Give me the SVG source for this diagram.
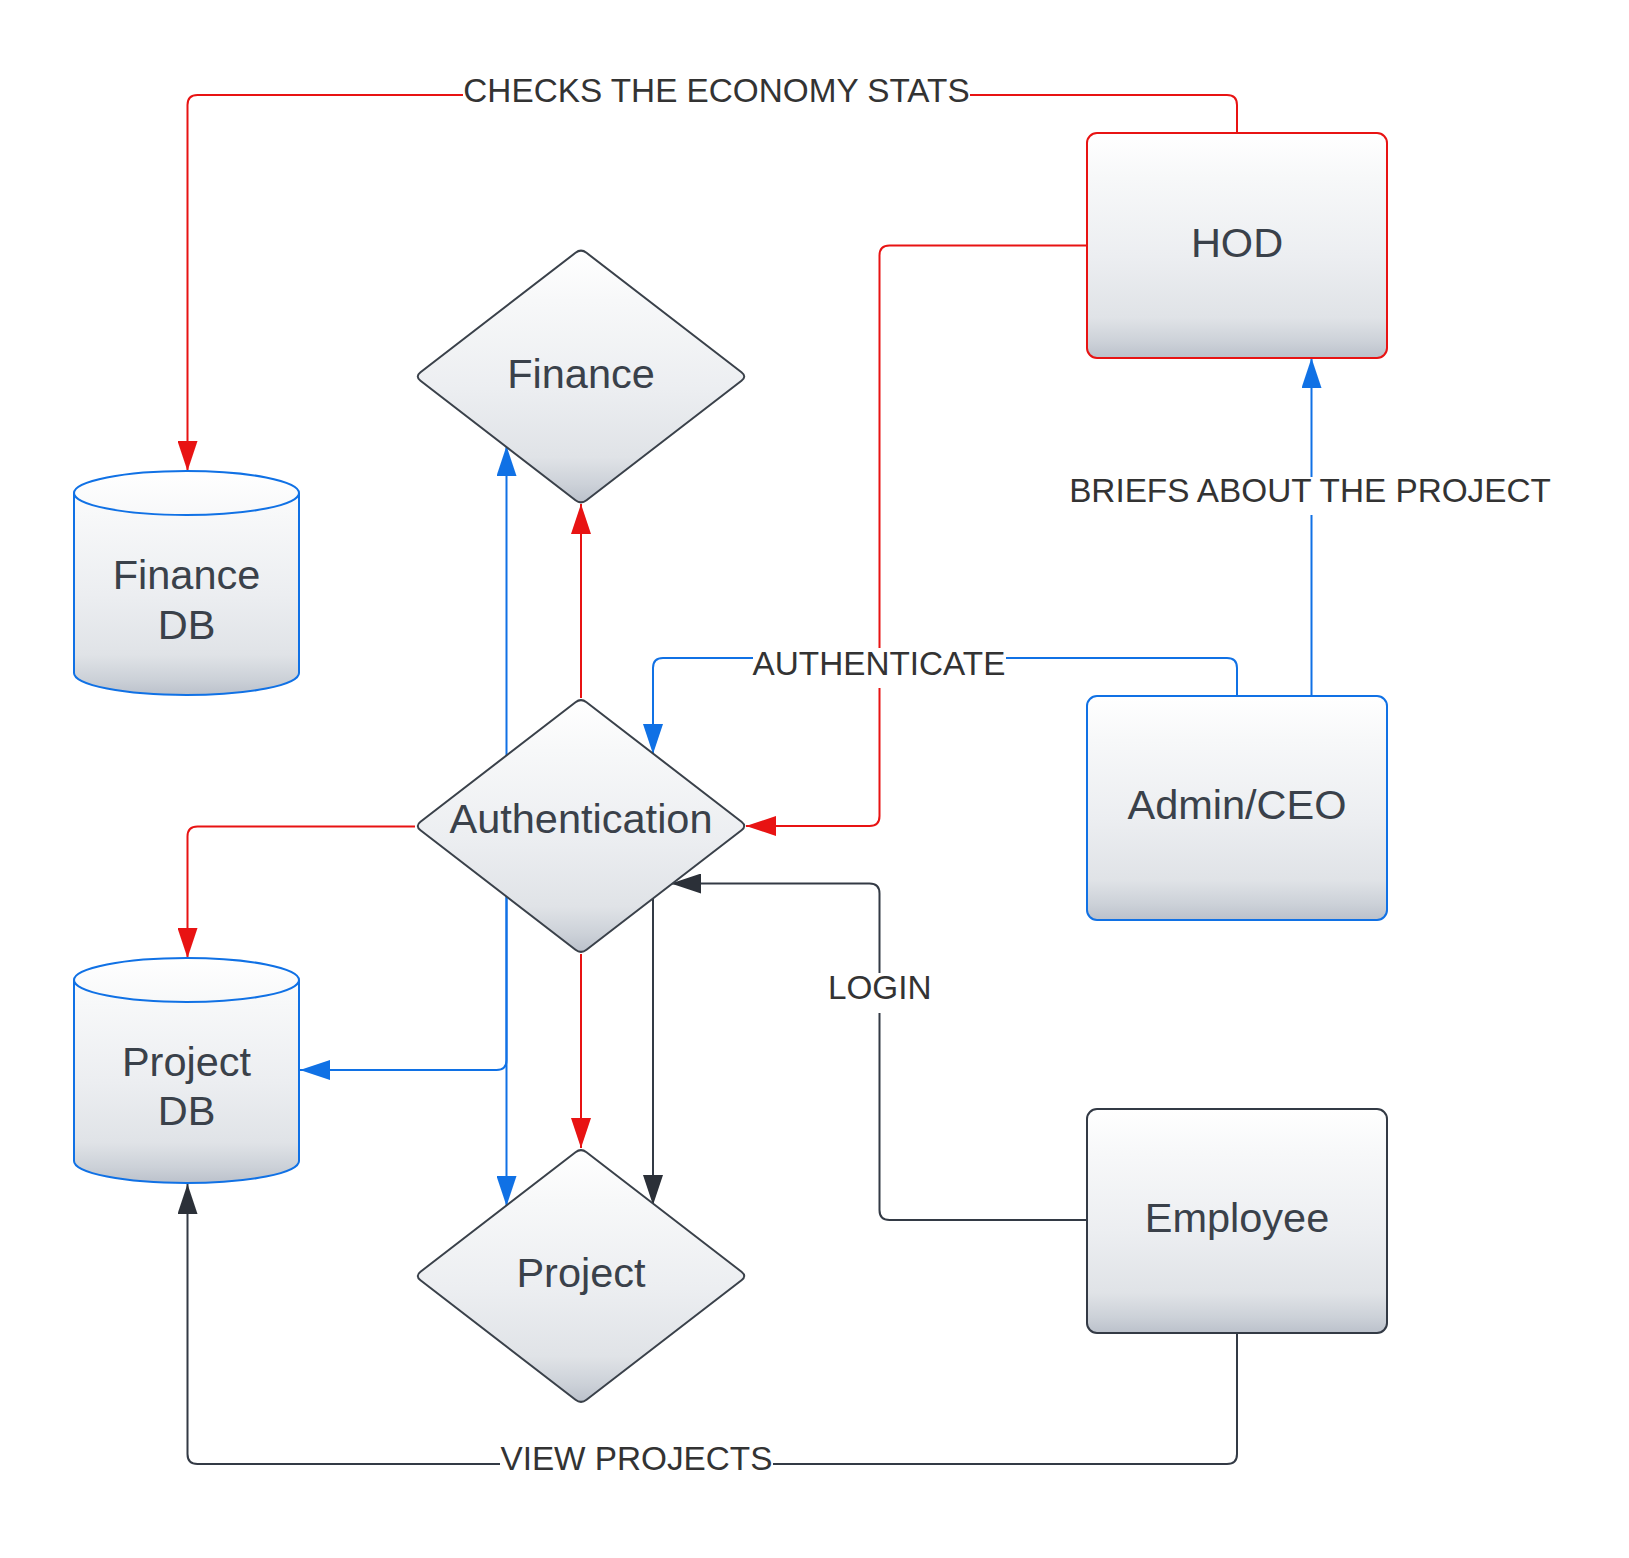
<svg xmlns="http://www.w3.org/2000/svg" xmlns:xlink="http://www.w3.org/1999/xlink" width="1629" height="1558" viewBox="0 0 1629 1558">
<style>
.node{fill:url(#g);stroke-width:2}
.nt{font-family:"Liberation Sans",Arial,sans-serif;font-size:41.5px;fill:#3a414a;text-anchor:middle}
.lt{font-family:"Liberation Sans",Arial,sans-serif;font-size:33.3px;fill:#333333;text-anchor:middle}
.c{fill:none;stroke-width:2}
.red{stroke:#e81313}
.blue{stroke:#1071e5}
.dark{stroke:#333a45}
.lbg{fill:#ffffff}
</style>
<defs>
<linearGradient id="g" x1="0" y1="0" x2="0" y2="1">
<stop offset="0" stop-color="#ffffff"/>
<stop offset="0.2" stop-color="#f7f8f9"/>
<stop offset="0.55" stop-color="#eceef1"/>
<stop offset="0.82" stop-color="#e0e3e7"/>
<stop offset="0.93" stop-color="#ccd1d8"/>
<stop offset="1" stop-color="#bbc1cb"/>
</linearGradient>
<path id="dia" d="M-5.5,-123.7 Q0,-128 5.5,-123.7 L160.5,-4.3 Q166,0 160.5,4.3 L5.5,123.7 Q0,128 -5.5,123.7 L-160.5,4.3 Q-166,0 -160.5,-4.3 Z"/>
<marker id="ar" markerUnits="userSpaceOnUse" markerWidth="30" markerHeight="20" refX="30" refY="10" orient="auto"><path d="M0,0 L30,10 L0,20 Z" fill="#e81313"/></marker>
<marker id="ab" markerUnits="userSpaceOnUse" markerWidth="30" markerHeight="20" refX="30" refY="10" orient="auto"><path d="M0,0 L30,10 L0,20 Z" fill="#1071e5"/></marker>
<marker id="ad" markerUnits="userSpaceOnUse" markerWidth="30" markerHeight="20" refX="30" refY="10" orient="auto"><path d="M0,0 L30,10 L0,20 Z" fill="#2b3038"/></marker>
</defs>
<rect width="1629" height="1558" fill="#ffffff"/>

<g id="connectors">
<path class="c red" d="M1237,133 V105 Q1237,95 1227,95 H197.5 Q187.5,95 187.5,105 V471" marker-end="url(#ar)"/>
<path class="c red" d="M1087,245.5 H889.5 Q879.5,245.5 879.5,255.5 V816 Q879.5,826 869.5,826 H746" marker-end="url(#ar)"/>
<path class="c red" d="M581,698 V504" marker-end="url(#ar)"/>
<path class="c red" d="M415,826.5 H197.5 Q187.5,826.5 187.5,836.5 V958" marker-end="url(#ar)"/>
<path class="c red" d="M581,954 V1148" marker-end="url(#ar)"/>
<path class="c blue" d="M1237,696 V668 Q1237,658 1227,658 H663 Q653,658 653,668 V754" marker-end="url(#ab)"/>
<path class="c blue" d="M1311.5,696 V358" marker-end="url(#ab)"/>
<path class="c blue" d="M506.5,757 V446" marker-end="url(#ab)"/>
<path class="c blue" d="M506.5,895 V1206" marker-end="url(#ab)"/>
<path class="c blue" d="M506.5,895 V1060 Q506.5,1070 496.5,1070 H300" marker-end="url(#ab)"/>
<path class="c dark" d="M1087,1220 H889.5 Q879.5,1220 879.5,1210 V893.5 Q879.5,883.5 869.5,883.5 H671" marker-end="url(#ad)"/>
<path class="c dark" d="M653,897 V1205" marker-end="url(#ad)"/>
<path class="c dark" d="M1237,1333 V1454 Q1237,1464 1227,1464 H197.5 Q187.5,1464 187.5,1454 V1184" marker-end="url(#ad)"/>
</g>

<g id="labels">
<rect class="lbg" x="463" y="78" width="507" height="28"/>
<text class="lt" x="716.5" y="101.5">CHECKS THE ECONOMY STATS</text>
<rect class="lbg" x="1068" y="477" width="485" height="38"/>
<text class="lt" x="1310" y="501.5">BRIEFS ABOUT THE PROJECT</text>
<rect class="lbg" x="753" y="648" width="253" height="40"/>
<text class="lt" x="879" y="675">AUTHENTICATE</text>
<rect class="lbg" x="828" y="973" width="104" height="40"/>
<text class="lt" x="879.7" y="999.3">LOGIN</text>
<rect class="lbg" x="500" y="1447" width="273" height="28"/>
<text class="lt" x="636.4" y="1470">VIEW PROJECTS</text>
</g>

<g id="hod">
<rect class="node" x="1087" y="133" width="300" height="225" rx="10" stroke="#e81313"/>
<text class="nt" x="1237" y="256.5">HOD</text>
</g>
<g id="admin">
<rect class="node" x="1087" y="696" width="300" height="224" rx="10" stroke="#1071e5"/>
<text class="nt" x="1237" y="819">Admin/CEO</text>
</g>
<g id="employee">
<rect class="node" x="1087" y="1109" width="300" height="224" rx="10" stroke="#333a45"/>
<text class="nt" x="1237" y="1232">Employee</text>
</g>
<g id="finance">
<use xlink:href="#dia" href="#dia" class="node" stroke="#3a414a" transform="translate(581,376.5)"/>
<text class="nt" x="581" y="387.5">Finance</text>
</g>
<g id="authentication">
<use xlink:href="#dia" href="#dia" class="node" stroke="#3a414a" transform="translate(581,826)"/>
<text class="nt" x="581" y="832.5">Authentication</text>
</g>
<g id="project">
<use xlink:href="#dia" href="#dia" class="node" stroke="#3a414a" transform="translate(581,1276)"/>
<text class="nt" x="581" y="1287">Project</text>
</g>
<g id="finance-db">
<path class="node" stroke="#1071e5" d="M74,493 A112.5,22 0 0 1 299,493 V673 A112.5,22 0 0 1 74,673 Z"/>
<path fill="none" stroke="#1071e5" stroke-width="2" d="M74,493 A112.5,22 0 0 0 299,493"/>
<text class="nt" x="186.5" y="588.5">Finance</text>
<text class="nt" x="186.5" y="638.5">DB</text>
</g>
<g id="project-db">
<path class="node" stroke="#1071e5" d="M74,980 A112.5,22 0 0 1 299,980 V1161 A112.5,22 0 0 1 74,1161 Z"/>
<path fill="none" stroke="#1071e5" stroke-width="2" d="M74,980 A112.5,22 0 0 0 299,980"/>
<text class="nt" x="186.5" y="1075.5">Project</text>
<text class="nt" x="186.5" y="1125">DB</text>
</g>
</svg>
